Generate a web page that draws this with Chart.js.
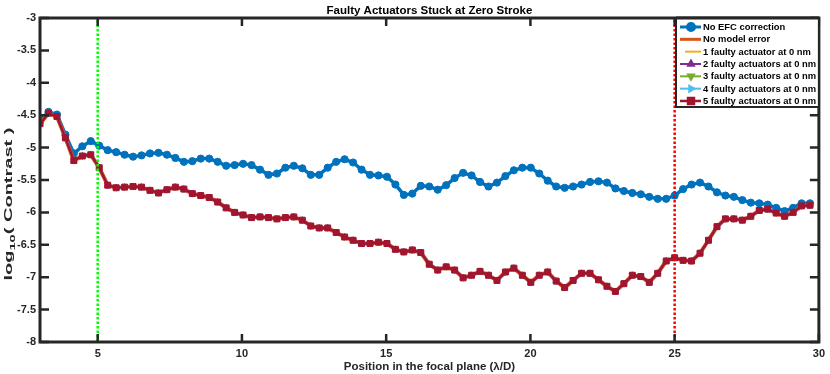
<!DOCTYPE html>
<html><head><meta charset="utf-8">
<script src="https://cdn.jsdelivr.net/npm/chart.js@4/dist/chart.umd.min.js"></script>
<style>html,body{margin:0;padding:0;background:#fff;overflow:hidden}#wrap{width:830px;height:374px;position:relative}</style>
</head><body><div id="wrap"><canvas id="c" width="830" height="374"></canvas></div>
<script>
// Positions in the focal plane (lambda/D)
const positions = [3.000,3.293,3.587,3.880,4.173,4.467,4.760,5.053,5.347,5.640,5.933,6.227,6.520,6.813,7.107,7.400,7.693,7.987,8.280,8.573,8.867,9.160,9.453,9.747,10.040,10.333,10.627,10.920,11.213,11.507,11.800,12.093,12.387,12.680,12.973,13.267,13.560,13.853,14.147,14.440,14.733,15.027,15.320,15.613,15.907,16.200,16.493,16.787,17.080,17.373,17.667,17.960,18.253,18.547,18.840,19.133,19.427,19.720,20.013,20.307,20.600,20.893,21.187,21.480,21.773,22.067,22.360,22.653,22.947,23.240,23.533,23.827,24.120,24.413,24.707,25.000,25.293,25.587,25.880,26.173,26.467,26.760,27.053,27.347,27.640,27.933,28.227,28.520,28.813,29.107,29.400,29.693];

// log10(Contrast), no EFC correction
const noEfcCorrection = [-4.58,-4.45,-4.49,-4.80,-5.09,-4.98,-4.90,-4.97,-5.04,-5.07,-5.11,-5.14,-5.12,-5.09,-5.08,-5.11,-5.16,-5.22,-5.21,-5.17,-5.17,-5.22,-5.28,-5.27,-5.25,-5.27,-5.34,-5.42,-5.40,-5.31,-5.28,-5.32,-5.42,-5.42,-5.31,-5.22,-5.18,-5.23,-5.34,-5.42,-5.43,-5.45,-5.57,-5.73,-5.71,-5.59,-5.60,-5.65,-5.58,-5.47,-5.39,-5.43,-5.53,-5.60,-5.54,-5.44,-5.35,-5.31,-5.31,-5.40,-5.51,-5.60,-5.62,-5.60,-5.57,-5.53,-5.52,-5.54,-5.63,-5.67,-5.70,-5.72,-5.76,-5.79,-5.79,-5.74,-5.64,-5.57,-5.54,-5.60,-5.69,-5.74,-5.76,-5.81,-5.85,-5.86,-5.88,-5.93,-5.98,-5.93,-5.86,-5.86];

// log10(Contrast), no model error
const noModelError = [-4.63,-4.47,-4.52,-4.85,-5.20,-5.13,-5.11,-5.31,-5.58,-5.62,-5.61,-5.60,-5.61,-5.66,-5.70,-5.65,-5.61,-5.64,-5.71,-5.74,-5.77,-5.84,-5.93,-6.00,-6.04,-6.08,-6.07,-6.08,-6.10,-6.08,-6.07,-6.12,-6.21,-6.24,-6.24,-6.31,-6.38,-6.43,-6.48,-6.48,-6.46,-6.48,-6.57,-6.61,-6.58,-6.62,-6.80,-6.89,-6.84,-6.89,-7.01,-6.97,-6.91,-6.97,-7.05,-6.92,-6.86,-6.97,-7.08,-6.97,-6.92,-7.06,-7.16,-7.05,-6.94,-6.94,-7.04,-7.14,-7.22,-7.10,-6.97,-6.99,-7.08,-6.94,-6.75,-6.70,-6.74,-6.75,-6.63,-6.43,-6.22,-6.10,-6.10,-6.12,-6.06,-5.97,-5.95,-6.01,-6.06,-6.00,-5.90,-5.89];

// The 1..5 faulty-actuator curves coincide with the no-model-error curve in the picture
const faulty1 = noModelError.slice();
const faulty2 = noModelError.slice();
const faulty3 = noModelError.slice();
const faulty4 = noModelError.slice();
const faulty5 = noModelError.slice();

const seriesLabels = ['No EFC correction','No model error','1 faulty actuator at 0 nm','2 faulty actuators at 0 nm','3 faulty actuators at 0 nm','4 faulty actuators at 0 nm','5 faulty actuators at 0 nm'];
const markerPositions = [5, 25];
const xTickValues = [5, 10, 15, 20, 25, 30];
const yTickValues = [-8, -7.5, -7, -6.5, -6, -5.5, -5, -4.5, -4, -3.5, -3];
const titleText = 'Faulty Actuators Stuck at Zero Stroke';
const xLabelText = 'Position in the focal plane (\u03bb/D)';

const AX = '#262626';
const FONT = '"Liberation Sans", Arial, Helvetica, sans-serif';
const pts = arr => positions.map((x, i) => ({x: x, y: arr[i]}));
const vline = x => [{x: x, y: -8}, {x: x, y: -3}];

const styles = [
  {color:'#0072BD', width:3.5, style:'circle', radius:3.6, rot:0, order:7},
  {color:'#D95319', width:4, style:false, radius:0, rot:0, order:6},
  {color:'#EDB120', width:2, style:false, radius:0, rot:0, order:5},
  {color:'#7E2F8E', width:2, style:'triangle', radius:3.5, rot:0, order:4},
  {color:'#77AC30', width:2, style:'triangle', radius:3.5, rot:180, order:3},
  {color:'#4DBEEE', width:2, style:'triangle', radius:3.5, rot:90, order:2},
  {color:'#A2142F', width:2.5, style:'rect', radius:4.2, rot:0, order:1}
];
const seriesData = [noEfcCorrection, noModelError, faulty1, faulty2, faulty3, faulty4, faulty5];

const datasets = seriesData.map((arr, i) => {
  const s = styles[i];
  return {
    label: seriesLabels[i], data: pts(arr), order: s.order,
    borderColor: s.color, backgroundColor: s.color, borderWidth: s.width,
    pointStyle: s.style || 'circle', pointRadius: s.radius, pointRotation: s.rot,
    pointBackgroundColor: s.color, pointBorderColor: s.color, pointBorderWidth: 1,
    pointHoverRadius: s.radius, tension: 0, fill: false
  };
});
datasets.push({label:'_v1', data: vline(markerPositions[0]), order:0, borderColor:'#00FF00', borderWidth:2.5, borderDash:[2.5,2], pointRadius:0, fill:false});
datasets.push({label:'_v2', data: vline(markerPositions[1]), order:0, borderColor:'#FF0000', borderWidth:2.5, borderDash:[2.5,2], pointRadius:0, fill:false});

const decor = {
  id: 'decor',
  afterDatasetsDraw(chart) {
    const ctx = chart.ctx, a = chart.chartArea, xs = chart.scales.x, ys = chart.scales.y;
    ctx.save();
    ctx.strokeStyle = AX; ctx.lineWidth = 2.5; ctx.setLineDash([]);
    ctx.beginPath();
    xTickValues.forEach(v => {
      const p = xs.getPixelForValue(v);
      ctx.moveTo(p, a.bottom); ctx.lineTo(p, a.bottom - 8);
      ctx.moveTo(p, a.top); ctx.lineTo(p, a.top + 8);
    });
    yTickValues.forEach(v => {
      const p = ys.getPixelForValue(v);
      ctx.moveTo(a.left, p); ctx.lineTo(a.left + 9, p);
      ctx.moveTo(a.right, p); ctx.lineTo(a.right - 9, p);
    });
    ctx.stroke();
    ctx.lineWidth = 3;
    ctx.strokeRect(a.left, a.top, a.right - a.left, a.bottom - a.top);
    ctx.restore();
  },
  afterDraw(chart) {
    const ctx = chart.ctx, a = chart.chartArea;
    ctx.save();
    // title
    ctx.fillStyle = '#000'; ctx.font = 'bold 11.5px ' + FONT;
    ctx.textAlign = 'center'; ctx.textBaseline = 'middle';
    ctx.fillText(titleText, (a.left + a.right) / 2, 10.5);
    // x label
    ctx.fillStyle = AX; ctx.font = 'bold 11.5px ' + FONT;
    ctx.fillText(xLabelText, (a.left + a.right) / 2, 367);
    // y label (rotated, with subscript)
    ctx.save();
    ctx.translate(9, 204);
    ctx.rotate(-Math.PI / 2);
    const mainF = 'bold 11px ' + FONT, subF = 'bold 8px ' + FONT;
    ctx.font = mainF; const w1 = ctx.measureText('log').width, w3 = ctx.measureText('( Contrast )').width;
    ctx.font = subF; const w2 = ctx.measureText('10').width;
    const total = w1 + w2 + w3;
    const sx = 153 / total;
    ctx.scale(sx, 1);
    let x0 = -total / 2;
    ctx.textAlign = 'left'; ctx.textBaseline = 'middle';
    ctx.font = mainF; ctx.fillText('log', x0, 0); x0 += w1;
    ctx.font = subF; ctx.fillText('10', x0, 4); x0 += w2;
    ctx.font = mainF; ctx.fillText('( Contrast )', x0, 0);
    ctx.restore();
    // legend
    const lx = 676, ly = a.top, lw = a.right - lx, lh = 89;
    ctx.fillStyle = '#fff'; ctx.fillRect(lx, ly, lw, lh);
    ctx.strokeStyle = AX; ctx.lineWidth = 2; ctx.setLineDash([]);
    ctx.strokeRect(lx, ly, lw, lh);
    ctx.lineWidth = 3; ctx.beginPath(); ctx.moveTo(lx, a.top); ctx.lineTo(a.right, a.top); ctx.stroke();
    ctx.font = 'bold 9.4px ' + FONT; ctx.textAlign = 'left'; ctx.textBaseline = 'middle';
    seriesLabels.forEach((lab, i) => {
      const s = styles[i], y = 27 + i * 12.33;
      ctx.strokeStyle = s.color; ctx.lineWidth = s.width > 3 ? 3 : s.width;
      ctx.beginPath(); ctx.moveTo(i === 2 ? 685 : 680, y); ctx.lineTo(701, y); ctx.stroke();
      if (s.style) {
        ctx.fillStyle = s.color; ctx.strokeStyle = s.color;
        Chart.helpers.drawPoint(ctx, {pointStyle: s.style, radius: s.radius, rotation: s.rot, borderWidth: 1}, 691, y);
        ctx.fill();
      }
      ctx.fillStyle = '#000';
      ctx.fillText(lab, 703, y + 0.5);
    });
    ctx.restore();
  }
};

new Chart(document.getElementById('c'), {
  type: 'line',
  data: { datasets: datasets },
  options: {
    responsive: false, animation: false, devicePixelRatio: 1,
    layout: { padding: { left: 0, right: 11, top: 18, bottom: 0 } },
    plugins: { legend: { display: false }, title: { display: false }, tooltip: { enabled: false } },
    scales: {
      x: {
        type: 'linear', min: 3, max: 30,
        afterBuildTicks: s => { s.ticks = xTickValues.map(v => ({value: v})); },
        afterFit: s => { s.height = 32; },
        grid: { display: false, drawTicks: false }, border: { display: false },
        ticks: { color: AX, font: { family: FONT, size: 11, weight: 'bold' }, padding: 5, maxRotation: 0, autoSkip: false }
      },
      y: {
        type: 'linear', min: -8, max: -3,
        afterBuildTicks: s => { s.ticks = yTickValues.map(v => ({value: v})); },
        afterFit: s => { s.width = 40; },
        grid: { display: false, drawTicks: false }, border: { display: false },
        ticks: { color: AX, font: { family: FONT, size: 11, weight: 'bold' }, padding: 4, autoSkip: false, callback: v => String(v) }
      }
    }
  },
  plugins: [decor]
});
</script></body></html>
